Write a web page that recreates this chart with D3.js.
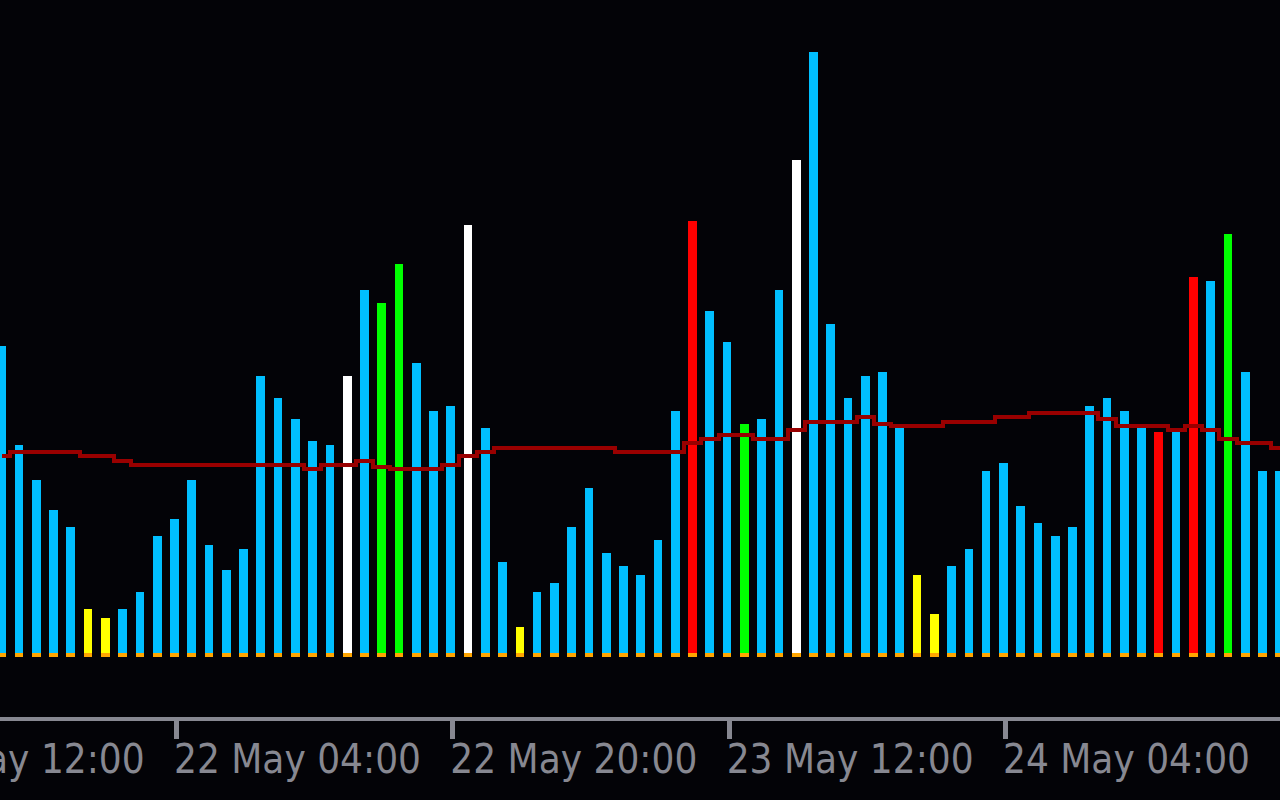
<!DOCTYPE html>
<html>
<head>
<meta charset="utf-8">
<script src="https://cdn.jsdelivr.net/npm/d3@7/dist/d3.min.js"></script>
<style>
  html, body { margin: 0; padding: 0; background: #030307; overflow: hidden; }
  svg { display: block; }
</style>
</head>
<body>
<svg id="chart" width="1280" height="800"></svg>
<script>
// ---- data ----
const startHourUTC = Date.UTC(2024, 4, 21, 18); // first visible bar: 21 May 18:00 (hourly bars)
const volumes = [307,208,173,143,126,44,35,44,61,117,
                 134,173,108,83,104,277,255,234,212,208,
                 277,363,350,389,290,242,247,428,225,91,
                 26,61,70,126,165,100,87,78,113,242,
                 432,342,311,229,234,363,493,601,329,255,
                 277,281,225,78,39,87,104,182,190,147,
                 130,117,126,247,255,242,225,221,221,376,
                 372,419,281,182,182];
const barClass = ["b","b","b","b","b","y","y","b","b","b",
                  "b","b","b","b","b","b","b","b","b","b",
                  "w","b","g","g","b","b","b","w","b","b",
                  "y","b","b","b","b","b","b","b","b","b",
                  "r","b","b","g","b","b","w","b","b","b",
                  "b","b","b","y","y","b","b","b","b","b",
                  "b","b","b","b","b","b","b","r","b","r",
                  "b","g","b","b","b"];
const maValues = [197.3,201,201,201,201,197.3,197.3,192.5,188,188,
                  188,188,188,188,188,188,188,188,184,188,
                  188,192.5,186,184,184,184,188,197,201,205.5,
                  205.5,205.5,205.5,205.5,205.5,205.5,201,201,201,201,
                  210,214,218.5,218.5,214,214,223,231.5,231.5,231.5,
                  236,229,227,227,227,231.5,231.5,231.5,236,236,
                  240,240,240,240,234,227,227,227,223,227,
                  223,214,210,210,205.5];
const tickLabels = ["21 May 12:00","22 May 04:00","22 May 20:00","23 May 12:00","24 May 04:00"];
const tickTimes = [Date.UTC(2024,4,21,12), Date.UTC(2024,4,22,4), Date.UTC(2024,4,22,20),
                   Date.UTC(2024,4,23,12), Date.UTC(2024,4,24,4)];

const colorMap = { b: "#00BFFF", y: "#FFFF00", w: "#FFFFFF", g: "#00FF00", r: "#FF0000" };

const HOUR = 3600 * 1000;
const bars = volumes.map((v, i) => ({ t: new Date(startHourUTC + i * HOUR), v, c: barClass[i], ma: maValues[i] }));

// ---- scales ----
const svg = d3.select("#chart");
svg.append("rect").attr("width", 1280).attr("height", 800).attr("fill", "#030307");

const step = 17.27;
const x = d3.scaleUtc()
  .domain([bars[0].t, bars[bars.length - 1].t])
  .range([1.8, 1.8 + (bars.length - 1) * step]);
const baseY = 653;
const y = d3.scaleLinear().domain([0, 653]).range([baseY, 0]);
const bw = 8.7;

// ---- bars ----
svg.append("g").attr("shape-rendering", "crispEdges")
  .selectAll("rect.bar").data(bars).join("rect")
  .attr("class", "bar")
  .attr("x", d => x(d.t) - 4.4)
  .attr("width", bw)
  .attr("y", d => y(d.v))
  .attr("height", d => y(0) - y(d.v))
  .attr("fill", d => colorMap[d.c]);

// orange base markers
svg.append("g").attr("shape-rendering", "crispEdges")
  .selectAll("rect.base").data(bars).join("rect")
  .attr("class", "base")
  .attr("x", d => x(d.t) - 4.4)
  .attr("width", bw)
  .attr("y", y(0))
  .attr("height", 4)
  .attr("fill", "#FFA500");

// ---- moving average line ----
const line = d3.line().x(d => x(d.t)).y(d => y(d.ma)).curve(d3.curveStep);
svg.append("path").datum(bars)
  .attr("d", line)
  .attr("fill", "none")
  .attr("stroke", "#990000")
  .attr("stroke-width", 4)
  .attr("shape-rendering", "crispEdges");

// ---- time axis ----
const axisCol = "#878891";
svg.append("rect").attr("x", 0).attr("y", 717).attr("width", 1280).attr("height", 4).attr("fill", axisCol);

const axis = d3.axisBottom(x)
  .tickValues(tickTimes.map(t => new Date(t)))
  .tickSize(20)
  .tickPadding(0)
  .tickFormat((d, i) => tickLabels[i]);

const gAxis = svg.append("g").attr("transform", "translate(1.5,719)").call(axis);
gAxis.select(".domain").remove();
gAxis.selectAll(".tick line").attr("stroke", axisCol).attr("stroke-width", 5).attr("shape-rendering", "crispEdges");
gAxis.selectAll(".tick text")
  .attr("fill", axisCol)
  .attr("font-family", "DejaVu Sans, sans-serif")
  .attr("font-size", 41)
  .attr("text-anchor", "start")
  .attr("x", -2.5)
  .attr("y", 54)
  .attr("dy", 0)
  .attr("textLength", 247)
  .attr("lengthAdjust", "spacingAndGlyphs");
</script>
</body>
</html>
